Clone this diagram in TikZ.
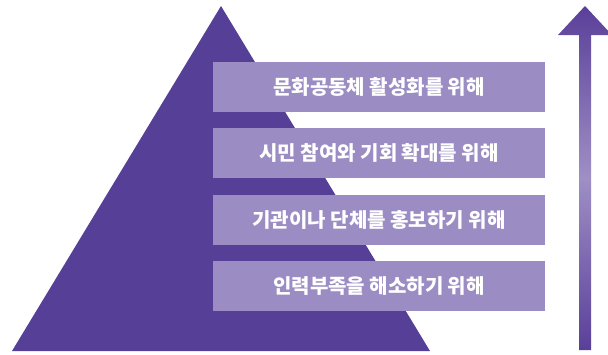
\documentclass[tikz,border=0pt]{standalone}
\usepackage{fontspec}
\newfontfamily\kr{Noto Sans CJK KR}
\usepackage{tikz}
\usetikzlibrary{positioning}
\definecolor{piramide}{HTML}{563F96}
\definecolor{caja}{HTML}{9B8DC3}
\definecolor{flechaosc}{HTML}{5A3F99}
\definecolor{flechaclr}{HTML}{9E8FC5}

\begin{document}
\begin{tikzpicture}[x=1pt, y=-1pt,
		nivel/.style={fill=caja, text=white, inner sep=0pt, minimum width=332pt, minimum height=50pt,
			font=\kr\bfseries\fontsize{20}{24}\selectfont},
		node distance=16pt]
		\useasboundingbox (0,0) rectangle (608,354);
		% Piramide
		\fill[piramide] (12,351) -- (221,6) -- (430,351) -- cycle;
		% Niveles
		\node[nivel] (n1) at (379,87) {문화공동체 활성화를 위해};
		\node[nivel, below=of n1] (n2) {시민 참여와 기회 확대를 위해};
		\node[nivel, below=of n2] (n3) {기관이나 단체를 홍보하기 위해};
		\node[nivel, below=of n3] (n4) {인력부족을 해소하기 위해};
		% Flecha
		\shade[top color=flechaosc, bottom color=flechaosc, middle color=flechaclr]
			(579,350) -- (579,35) -- (558,35) -- (585,6) -- (612,35) -- (591,35) -- (591,350) -- cycle;
	\end{tikzpicture}
\end{document}
